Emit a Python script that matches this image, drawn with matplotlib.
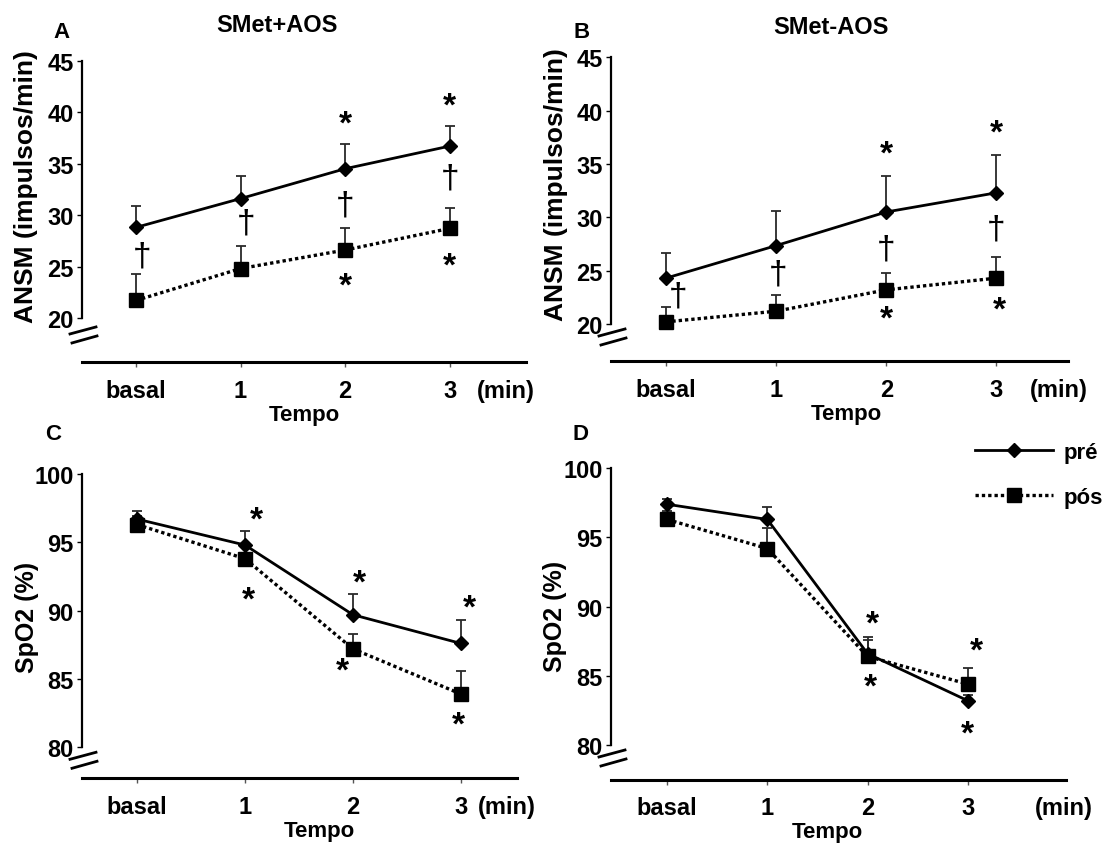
import matplotlib
matplotlib.use('Agg')
import matplotlib.pyplot as plt
from matplotlib.lines import Line2D

plt.rcParams['font.family'] = ['Liberation Sans', 'DejaVu Sans']

# ---------------- data ----------------
time_labels = ['basal', '1', '2', '3']
series_names = ['pré', 'pós']

# A: ANSM, SMet+AOS
a_pre = [28.8, 31.6, 34.5, 36.7]
a_pre_err = [2.05, 2.2, 2.45, 2.0]
a_pos = [21.7, 24.8, 26.6, 28.7]
a_pos_err = [2.55, 2.15, 2.15, 1.95]

# B: ANSM, SMet-AOS
b_pre = [24.3, 27.35, 30.5, 32.3]
b_pre_err = [2.35, 3.2, 3.35, 3.55]
b_pos = [20.2, 21.2, 23.2, 24.3]
b_pos_err = [1.4, 1.5, 1.6, 1.95]

# C: SpO2, SMet+AOS
c_pre = [96.7, 94.8, 89.7, 87.6]
c_pre_err = [0.6, 1.0, 1.5, 1.7]
c_pos = [96.3, 93.8, 87.2, 83.9]
c_pos_err = [0.6, 0.9, 1.1, 1.7]

# D: SpO2, SMet-AOS
d_pre = [97.4, 96.3, 86.6, 83.2]
d_pre_err = [0.4, 0.9, 1.0, 0.4]
d_pos = [96.3, 94.2, 86.4, 84.4]
d_pos_err = [0.6, 1.5, 1.4, 1.2]

# significance marks: (symbol, x, y)
a_marks = [('†', 0.06, 26.05), ('†', 1.05, 29.2), ('†', 2.0, 31.0), ('†', 3.0, 33.6),
           ('*', 2.0, 39.4), ('*', 3.0, 41.1), ('*', 2.0, 23.6), ('*', 3.0, 25.6)]
b_marks = [('†', 0.11, 22.65), ('†', 1.02, 24.7), ('†', 2.0, 27.0), ('†', 3.0, 28.9),
           ('*', 2.0, 36.4), ('*', 3.0, 38.4), ('*', 2.0, 20.95), ('*', 3.03, 21.8)]
c_marks = [('*', 1.11, 97.0), ('*', 1.03, 91.2), ('*', 2.06, 92.4), ('*', 1.9, 86.0),
           ('*', 3.08, 90.6), ('*', 2.98, 82.0)]
d_marks = [('*', 2.05, 89.15), ('*', 2.03, 84.6), ('*', 3.09, 87.2), ('*', 3.0, 81.2)]

ansm_ticks = [20, 25, 30, 35, 40, 45]
spo2_ticks = [80, 85, 90, 95, 100]

# ---------------- figure ----------------
W, H = 1107, 845
fig = plt.figure(figsize=(W / 100, H / 100), dpi=100)

FS = 17          # tick labels
XPAD = 8.5
TICKLEN = 3.5
STAR_FS = 24
DAG_FS = 24


def px_rect(left, right, top, bottom):
    return [left / W, 1 - bottom / H, (right - left) / W, (bottom - top) / H]


def draw_panel(rect, xlim, ylim, yticks, pre, pre_err, pos, pos_err, marks,
               ylabel, ylabel_fs, ylabel_xy, xlabel_x, min_x, letter, letter_xy,
               title=None, title_xy=None, break_dy=0):
    ax = fig.add_axes(px_rect(*rect))
    x = list(range(len(time_labels)))
    ax.errorbar(x, pre, yerr=[[0] * len(pre), pre_err], fmt='none',
                ecolor='#2a2a2a', elinewidth=1.3, capsize=3.8, capthick=1.3, zorder=2)
    ax.errorbar(x, pos, yerr=[[0] * len(pos), pos_err], fmt='none',
                ecolor='#2a2a2a', elinewidth=1.3, capsize=3.8, capthick=1.3, zorder=2)
    l1, = ax.plot(x, pre, color='black', lw=2.0, marker='D', markersize=7,
                  markerfacecolor='black', markeredgecolor='black', zorder=4,
                  label=series_names[0])
    l2, = ax.plot(x, pos, color='black', lw=2.4, linestyle=(0, (1.0, 0.9)),
                  marker='s', markersize=9.5, markerfacecolor='black',
                  markeredgecolor='black', zorder=3, label=series_names[1])
    ax.set_xlim(*xlim)
    ax.set_ylim(*ylim)
    ax.set_yticks(yticks)
    ax.set_yticklabels([str(t) for t in yticks])
    ax.set_xticks(x)
    ax.set_xticklabels(time_labels)
    for s in ['top', 'right']:
        ax.spines[s].set_visible(False)
    ax.spines['left'].set_bounds(yticks[0], yticks[-1])
    ax.spines['left'].set_linewidth(1.6)
    ax.spines['bottom'].set_linewidth(2.2)
    ax.tick_params(axis='y', direction='out', length=3.5, width=1.0, pad=2.5,
                   labelsize=FS)
    ax.tick_params(axis='x', direction='out', length=TICKLEN, width=1.0, pad=XPAD,
                   labelsize=FS, color='#555555')
    for lab in ax.get_xticklabels() + ax.get_yticklabels():
        lab.set_fontweight('bold')
    ax.set_ylabel(ylabel, fontsize=ylabel_fs, fontweight='bold')
    ax.yaxis.set_label_coords(*ylabel_xy)
    ax.set_xlabel('Tempo', fontsize=16, fontweight='bold', labelpad=1.5, x=xlabel_x)
    ax.annotate('(min)', xy=(min_x, 0), xycoords=('data', 'axes fraction'),
                xytext=(0, -(TICKLEN + XPAD)), textcoords='offset points', ha='center',
                va='top', fontsize=FS, fontweight='bold', annotation_clip=False)
    for sym, mx, my in marks:
        if sym == '*':
            ax.annotate(sym, xy=(mx, my), xytext=(0, -0.42 * STAR_FS),
                        textcoords='offset points', ha='center', va='baseline',
                        fontsize=STAR_FS, fontweight='bold', annotation_clip=False)
        else:
            ax.annotate(sym, xy=(mx, my), ha='center', va='center', fontsize=DAG_FS,
                        annotation_clip=False)
    # axis break marks
    bx, by = ax.transData.transform((xlim[0], yticks[0]))
    inv = fig.transFigure.inverted()
    for (x0, y0, x1, y1) in [(-12, -12, 14, -5), (-10, -21, 15, -14)]:
        p0 = inv.transform((bx + x0, by + y0 + break_dy))
        p1 = inv.transform((bx + x1, by + y1 + break_dy))
        fig.add_artist(Line2D([p0[0], p1[0]], [p0[1], p1[1]], color='black', lw=2.0,
                              transform=fig.transFigure))
    fig.text(letter_xy[0] / W, 1 - letter_xy[1] / H, letter, fontsize=16,
             fontweight='bold', ha='center', va='center')
    if title:
        fig.text(title_xy[0] / W, 1 - title_xy[1] / H, title, fontsize=17,
                 fontweight='bold', ha='center', va='center')
    return ax, l1, l2


axA, _, _ = draw_panel((82, 526, 61.7, 363.3), (-0.516, 3.73), (15.69, 45), ansm_ticks,
                       a_pre, a_pre_err, a_pos, a_pos_err, a_marks,
                       'ANSM (impulsos/min)', 19, (-0.098, 0.585), 0.5, 3.54, 'A', (62, 33),
                       'SMet+AOS', (277, 26), break_dy=-4)
axB, _, _ = draw_panel((611, 1068, 58.3, 362), (-0.5, 3.65), (16.53, 45), ansm_ticks,
                       b_pre, b_pre_err, b_pos, b_pos_err, b_marks,
                       'ANSM (impulsos/min)', 19, (-0.095, 0.583), 0.515, 3.57, 'B', (582, 33),
                       'SMet-AOS', (831, 27), break_dy=0)
axC, _, _ = draw_panel((82, 517, 475, 779.3), (-0.51, 3.52), (77.73, 100), spo2_ticks,
                       c_pre, c_pre_err, c_pos, c_pos_err, c_marks,
                       'SpO2 (%)', 18, (-0.099, 0.533), 0.545, 3.43, 'C', (53, 435))
axD, hpre, hpos = draw_panel((611, 1066, 469.3, 780.7), (-0.56, 3.98), (77.49, 100), spo2_ticks,
                             d_pre, d_pre_err, d_pos, d_pos_err, d_marks,
                             'SpO2 (%)', 18, (-0.097, 0.526), 0.475, 3.96, 'D', (580, 435))

fig.legend(handles=[hpre, hpos], loc='center left',
           bbox_to_anchor=(975 / W, 1 - 476 / H), bbox_transform=fig.transFigure,
           frameon=False, prop={'weight': 'bold', 'size': 16},
           handlelength=3.5, handletextpad=0.5, labelspacing=1.1, borderpad=0,
           borderaxespad=0)

fig.savefig('out.png', dpi=100, facecolor='white')
